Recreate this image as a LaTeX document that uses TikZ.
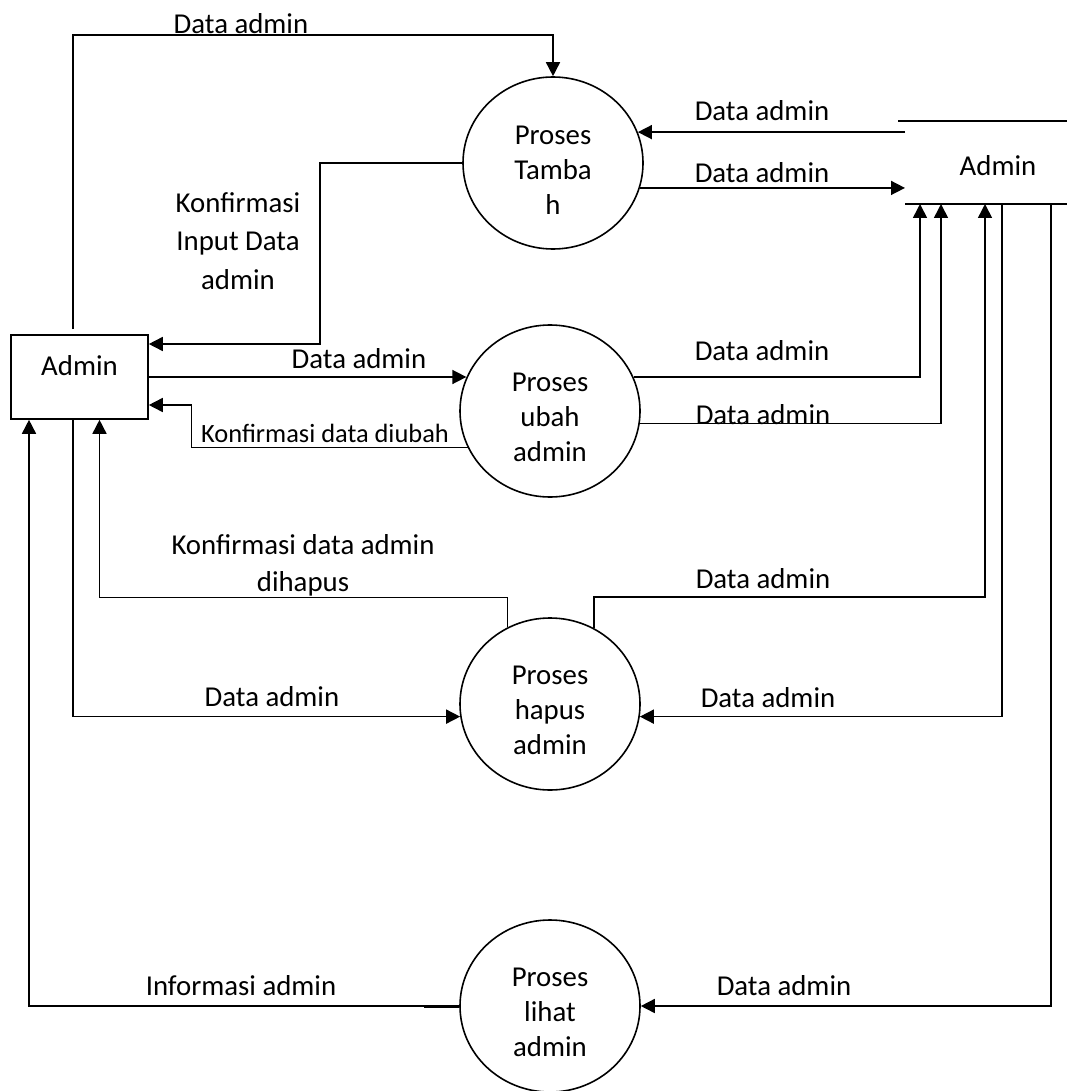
\documentclass[tikz,border=0pt]{standalone}
\usepackage{fontspec}
\setmainfont{Carlito}
\usetikzlibrary{arrows.meta,shapes.geometric}

\tikzset{
  proc/.style={ellipse, draw, line width=1.6pt, minimum width=180pt, minimum height=172pt, inner sep=0pt},
  entity/.style={rectangle, draw, line width=1.6pt, minimum width=137pt, minimum height=84pt, text height=20pt, text depth=24pt},
  lbl/.style={inner sep=0pt, align=center},
  link/.style={line width=1.6pt},
  flow/.style={link, -{Triangle[length=14pt,width=14pt]}},
}

\begin{document}
\begin{tikzpicture}[x=1pt, y=-1pt, font=\fontsize{28.8}{35}\selectfont]
  \useasboundingbox (0,0) rectangle (1067,1091);

  \node[entity] (admin) at (79.5,377) {Admin};

  \node[proc] (tambah) at (553,163) {};
  \node[proc] (ubah) at (550,411) {};
  \node[proc] (hapus) at (550,704) {};
  \node[proc] (lihat) at (550,1006) {};
  \node[lbl] (tambahtxt) at (553,170) {Proses\\Tamba\\h};
  \node[lbl] (ubahtxt) at (550,417) {Proses\\ubah\\admin};
  \node[lbl] (hapustxt) at (550,710) {Proses\\hapus\\admin};
  \node[lbl] (lihattxt) at (550,1012) {Proses\\lihat\\admin};

  % data store
  \node[lbl] (store) at (998,166) {Admin};
  \coordinate (nw) at (898,121);
  \coordinate (ne) at (1067,121);
  \coordinate (sw) at (905,204);
  \coordinate (se) at (1067,204);
  \draw[link] (nw) -- (ne);
  \draw[link] (sw) -- (se);

  % proses tambah
  \draw[flow] ([xshift=-6.5pt,yshift=5pt]admin.north) |- ([yshift=41pt]tambah.north) -- (tambah.north);
  \draw[flow] (tambah.west) -- ++(-142,0) |- ([yshift=33pt]admin.east);
  \draw[flow] (tambah.20 -| sw) -- (tambah.20);
  \draw[flow] (tambah.344) -- (tambah.344 -| sw);

  % proses ubah
  \draw[flow] (admin.east) -- (admin.east -| ubah.158);
  \draw[flow] (ubah.204) -- ++(-276,0) |- ([yshift=-28pt]admin.east);
  \draw[flow] (ubah.22) -| ([xshift=15pt]sw);
  \draw[flow] (ubah.352) -| ([xshift=36pt]sw);

  % proses hapus
  \draw[flow] (hapus.119) -- ++(0,-30) -| ([xshift=20pt]admin.south);
  \draw[flow] (hapus.60) -- ++(0,-31) -| ([xshift=80pt]sw);
  \draw[flow] ([xshift=-6.5pt]admin.south) |- (hapus.188);
  \draw[flow] ([xshift=97pt]sw) |- (hapus.352);

  % proses lihat
  \draw[flow] ([xshift=146pt]sw) |- (lihat.east);
  \draw[flow] (lihat.west) -| ([xshift=-50.5pt]admin.south);
  \draw[line width=3pt] (lihat.west) -- ++(-35,0);

  % labels
  \node[lbl] (ltop) at (241,24) {Data admin};
  \node[lbl, font=\fontsize{28.8}{38.5}\selectfont] (lkonf) at (238,241) {Konfirmasi\\Input Data\\admin};
  \node[lbl] (lin) at (762,111) {Data admin};
  \node[lbl] (lout) at (762,173) {Data admin};
  \node[lbl] (lubah) at (359,359) {Data admin};
  \node[lbl, font=\fontsize{26.4}{32}\selectfont] (ldiubah) at (325,433) {Konfirmasi data diubah};
  \node[lbl] (lubah1) at (762,351) {Data admin};
  \node[lbl] (lubah2) at (763,415) {Data admin};
  \node[lbl, font=\fontsize{28.8}{37}\selectfont] (lhapus) at (303,565) {Konfirmasi data admin\\dihapus};
  \node[lbl] (lhapus1) at (763,579) {Data admin};
  \node[lbl] (lhapus2) at (272,697) {Data admin};
  \node[lbl] (lhapus3) at (768,698) {Data admin};
  \node[lbl] (linfo) at (241,986) {Informasi admin};
  \node[lbl] (llihat) at (784,986) {Data admin};
\end{tikzpicture}
\end{document}
